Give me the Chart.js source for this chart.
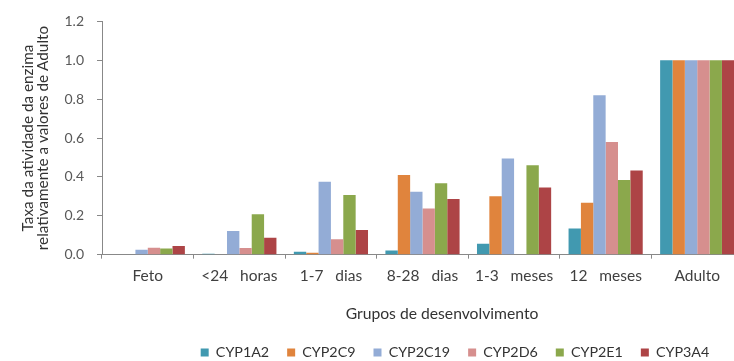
<!DOCTYPE html>
<html>
<head>
<meta charset="utf-8">
<script src="https://cdn.jsdelivr.net/npm/chart.js@4.4.1/dist/chart.umd.min.js"></script>
<style>
  html, body { margin: 0; padding: 0; background: #ffffff; overflow: hidden; }
  #wrap { width: 746px; height: 361px; position: relative; }
</style>
</head>
<body>
<div id="wrap"><canvas id="chart"></canvas></div>
<script>
// Developmental groups (x categories)
const groups = ['Feto', '<24   horas', '1-7   dias', '8-28   dias', '1-3   meses', '12   meses', 'Adulto'];

// Enzyme activity relative to adult values, one array per isoform
const cyp1a2  = [null,  0.005, 0.015, 0.022, 0.056, 0.134, 1.0];
const cyp2c9  = [null,  null,  0.010, 0.410, 0.300, 0.267, 1.0];
const cyp2c19 = [0.025, 0.122, 0.375, 0.324, 0.495, 0.820, 1.0];
const cyp2d6  = [0.035, 0.034, 0.079, 0.237, null,  0.580, 1.0];
const cyp2e1  = [0.032, 0.208, 0.307, 0.367, 0.460, 0.384, 1.0];
const cyp3a4  = [0.045, 0.087, 0.127, 0.286, 0.345, 0.433, 1.0];

const seriesNames = ['CYP1A2', 'CYP2C9', 'CYP2C19', 'CYP2D6', 'CYP2E1', 'CYP3A4'];
const seriesValues = [cyp1a2, cyp2c9, cyp2c19, cyp2d6, cyp2e1, cyp3a4];
const seriesColors = ['#4199B0', '#E0843D', '#93ACD6', '#D68F8E', '#8BA84C', '#AD4446'];

// Y axis tick values
const yTicks = [0.0, 0.2, 0.4, 0.6, 0.8, 1.0, 1.2];

const FONT = 'Lato, "Open Sans", sans-serif';
const AXIS_GREY = '#888888';

// Places the bottom title and the legend at fixed centres
const placeBlocks = {
  id: 'placeBlocks',
  afterLayout(chart, args, opts) {
    const lg = chart.legend;
    if (lg) {
      const pad = lg.options.labels.padding;
      const itemH = Math.max(lg.options.labels.boxHeight, lg.options.labels.font.size);
      const dx = opts.legendX - (lg.left + lg.right) / 2;
      const dy = opts.legendY - (lg.top + pad + itemH / 2);
      lg.left += dx; lg.right += dx; lg.top += dy; lg.bottom += dy;
    }
    const tb = chart.titleBlock;
    if (tb) {
      const dx = opts.titleX - (tb.left + tb.right) / 2;
      const dy = opts.titleY - (tb.top + tb.height / 2);
      tb.left += dx; tb.right += dx; tb.top += dy; tb.bottom += dy;
    }
  }
};

new Chart(document.getElementById('chart'), {
  type: 'bar',
  data: {
    labels: groups,
    datasets: seriesNames.map((name, i) => ({
      label: name,
      data: seriesValues[i],
      backgroundColor: seriesColors[i],
      borderWidth: 0,
      barPercentage: 1.0,
      categoryPercentage: 0.81
    }))
  },
  options: {
    responsive: true,
    maintainAspectRatio: false,
    animation: false,
    layout: { padding: { top: 20, right: 3, bottom: 0, left: 0 } },
    scales: {
      x: {
        grid: { display: true, drawOnChartArea: false, offset: true, tickLength: 4, color: AXIS_GREY },
        border: { color: AXIS_GREY, width: 1 },
        ticks: { color: '#404040', font: { family: FONT, size: 15.5 }, padding: 8, maxRotation: 0, autoSkip: false },
        afterFit(scale) { scale.height = 57.5; }
      },
      y: {
        min: 0,
        max: 1.2,
        afterBuildTicks(scale) { scale.ticks = yTicks.map(v => ({ value: v })); },
        grid: { display: true, drawOnChartArea: false, tickLength: 5, color: AXIS_GREY },
        border: { color: AXIS_GREY, width: 1 },
        ticks: {
          color: '#595959',
          font: { family: FONT, size: 14 },
          padding: 13,
          callback: v => Number(v).toFixed(1)
        },
        title: {
          display: true,
          text: ['Taxa da atividade da enzima', 'relativamente a valores de Adulto'],
          color: '#333333',
          font: { family: FONT, size: 15.3, lineHeight: 0.98 },
          padding: { top: 20.5, bottom: 0 }
        },
        afterFit(scale) { scale.width = 102; }
      }
    },
    plugins: {
      title: {
        display: true,
        text: 'Grupos de desenvolvimento',
        position: 'bottom',
        weight: 500,
        color: '#333333',
        font: { family: FONT, size: 15.7, weight: 'normal', lineHeight: 1.2 },
        padding: { top: 0, bottom: 0 }
      },
      legend: {
        position: 'bottom',
        maxHeight: 30,
        labels: {
          boxWidth: 8,
          boxHeight: 8,
          padding: 18,
          color: '#333333',
          font: { family: FONT, size: 14.3 }
        }
      },
      tooltip: { enabled: false },
      placeBlocks: { legendX: 455, legendY: 352.5, titleX: 442, titleY: 313.5 }
    }
  },
  plugins: [placeBlocks]
});
</script>
</body>
</html>
